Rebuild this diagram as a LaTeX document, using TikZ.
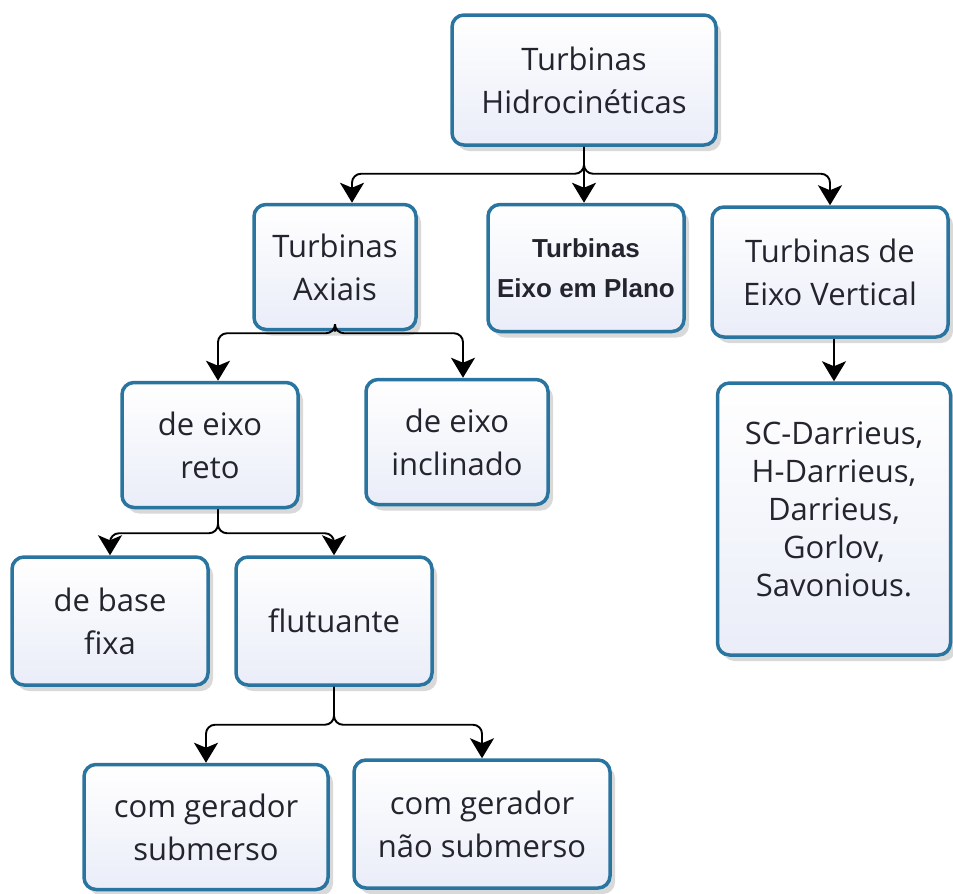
\documentclass[tikz,border=0pt]{standalone}
\usepackage{fontspec}
\setmainfont{Open Sans}
\newfontfamily\arialb{Liberation Sans}
\usetikzlibrary{arrows.meta,shadows}
\definecolor{bordc}{RGB}{42,116,160}
\definecolor{boxbot}{RGB}{234,237,248}
\definecolor{txtc}{RGB}{36,36,46}
\tikzset{
  box/.style={rectangle, rounded corners=12pt, draw=bordc, line width=3.5pt,
    top color=white, bottom color=boxbot, inner sep=0pt, align=center,
    text=txtc, font=\fontsize{31}{43}\selectfont,
    drop shadow={shadow xshift=5pt, shadow yshift=-6pt, opacity=0.15, fill=black}},
  conn/.style={line width=1.9pt, black, rounded corners=9pt,
    -{Stealth[length=20pt,width=24pt,inset=5pt]}}
}
\begin{document}
\begin{tikzpicture}[x=1pt,y=-1pt]
\useasboundingbox (0,0) rectangle (953,894);
\node[box, minimum width=264pt, minimum height=130pt] (top) at (584,80) {Turbinas\\Hidrocinéticas};
\node[box, minimum width=162pt, minimum height=125pt] (axiais) at (335,267) {Turbinas\\Axiais};
\node[box, minimum width=196pt, minimum height=127pt, font={\arialb\bfseries\fontsize{26}{40}\selectfont}] (plano) at (586,268) {Turbinas\\Eixo em Plano};
\node[box, minimum width=236pt, minimum height=130pt] (vert) at (830,272) {Turbinas de\\Eixo Vertical};
\node[box, minimum width=176pt, minimum height=125pt] (reto) at (210,445) {de eixo\\reto};
\node[box, minimum width=182pt, minimum height=125pt] (incl) at (457,442) {de eixo\\inclinado};
\node[box, minimum width=233pt, minimum height=272pt,
  label={[name=sctext, align=center, text=txtc, font=\fontsize{31}{38}\selectfont, yshift=10pt]center:SC-Darrieus,\\H-Darrieus,\\Darrieus,\\Gorlov,\\Savonious.}] (sc) at (834,519) {};
\node[box, minimum width=196pt, minimum height=128pt] (base) at (110,621) {de base\\fixa};
\node[box, minimum width=196pt, minimum height=128pt] (flut) at (334,621) {flutuante};
\node[box, minimum width=244pt, minimum height=125pt] (sub) at (206,827) {com gerador\\submerso};
\node[box, minimum width=256pt, minimum height=128pt] (nsub) at (482,824) {com gerador\\não submerso};

\draw[conn] (top.south) -- ++(0,27) -| ([xshift=17pt]axiais.north);
\draw[conn] (top.south) -- (plano.north -| top.south);
\draw[conn] (top.south) -- ++(0,27) -| (vert.north);
\draw[conn] (axiais.south) -- ++(0,2) -| ([xshift=8pt]reto.north);
\draw[conn] (axiais.south) -- ++(0,2) -| ([xshift=6pt]incl.north);
\draw[conn] (vert.south -| sc.north) -- (sc.north);
\draw[conn] ([xshift=8pt]reto.south) -- ++(0,24) -| (base.north);
\draw[conn] ([xshift=8pt]reto.south) -- ++(0,24) -| (flut.north);
\draw[conn] (flut.south) -- ++(0,38) -| (sub.north);
\draw[conn] (flut.south) -- ++(0,38) -| (nsub.north);
\end{tikzpicture}
\end{document}
